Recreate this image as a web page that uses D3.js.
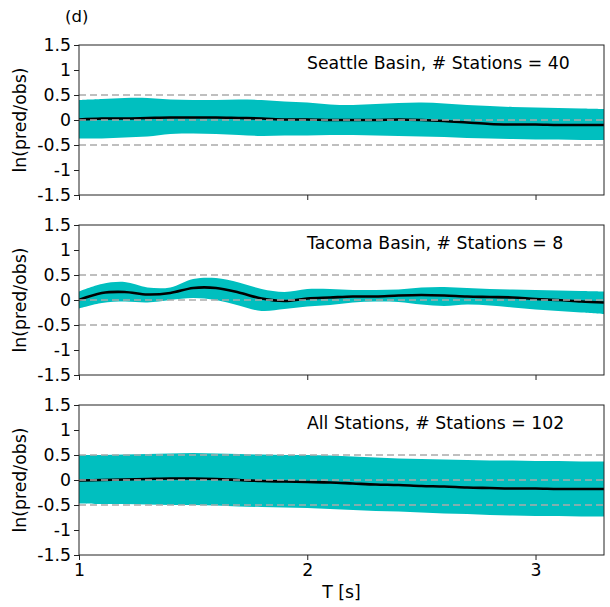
<!DOCTYPE html>
<html>
<head>
<meta charset="utf-8">
<script src="https://cdn.jsdelivr.net/npm/d3@7"></script>
<style>
  html, body { margin: 0; padding: 0; background: #fff; }
  text { font-family: "DejaVu Sans", sans-serif; fill: #000; }
</style>
</head>
<body>
<svg id="chart" width="610" height="607"></svg>
<script>
// ---------------- data ----------------
const periods = [1.0,1.1,1.2,1.3,1.4,1.5,1.6,1.7,1.8,1.9,2.0,2.1,2.2,2.3,2.4,2.5,2.6,2.7,2.8,2.9,3.0,3.1,3.2,3.3];

const seattleMean  = [0.01,0.03,0.03,0.04,0.05,0.05,0.05,0.04,0.03,0.01,0.01,0.00,0.00,0.00,0.01,0.00,-0.02,-0.05,-0.08,-0.09,-0.09,-0.10,-0.10,-0.10];
const seattleUpper = [0.40,0.42,0.44,0.44,0.41,0.40,0.40,0.41,0.40,0.37,0.35,0.31,0.30,0.32,0.34,0.35,0.33,0.30,0.28,0.26,0.25,0.24,0.23,0.22];
const seattleLower = [-0.37,-0.37,-0.35,-0.33,-0.28,-0.27,-0.28,-0.30,-0.32,-0.31,-0.31,-0.30,-0.30,-0.31,-0.32,-0.33,-0.34,-0.36,-0.37,-0.38,-0.39,-0.39,-0.40,-0.40];

const tacomaMean  = [0.00,0.14,0.16,0.11,0.14,0.24,0.24,0.15,0.03,-0.02,0.03,0.05,0.07,0.07,0.09,0.10,0.09,0.07,0.06,0.05,0.02,0.00,-0.03,-0.05];
const tacomaUpper = [0.17,0.32,0.36,0.25,0.25,0.42,0.44,0.35,0.22,0.16,0.22,0.22,0.20,0.20,0.21,0.25,0.26,0.24,0.22,0.21,0.20,0.19,0.18,0.17];
const tacomaLower = [-0.17,-0.06,-0.03,-0.05,0.00,0.04,0.00,-0.11,-0.22,-0.18,-0.13,-0.10,-0.05,-0.03,-0.04,-0.09,-0.12,-0.09,-0.11,-0.15,-0.19,-0.22,-0.25,-0.28];

const allMean  = [-0.01,0.00,0.01,0.02,0.03,0.03,0.02,0.00,-0.02,-0.03,-0.04,-0.05,-0.07,-0.09,-0.10,-0.12,-0.13,-0.15,-0.16,-0.17,-0.17,-0.18,-0.18,-0.18];
const allUpper = [0.50,0.50,0.51,0.52,0.53,0.54,0.53,0.52,0.51,0.50,0.50,0.49,0.47,0.45,0.43,0.42,0.41,0.40,0.39,0.39,0.38,0.38,0.37,0.37];
const allLower = [-0.47,-0.48,-0.48,-0.49,-0.50,-0.50,-0.51,-0.53,-0.54,-0.55,-0.56,-0.58,-0.60,-0.62,-0.63,-0.65,-0.67,-0.68,-0.70,-0.71,-0.72,-0.72,-0.73,-0.73];

const panelTitles = ["Seattle Basin, # Stations = 40", "Tacoma Basin, # Stations = 8", "All Stations, # Stations = 102"];
const yTickValues = [-1.5,-1,-0.5,0,0.5,1,1.5];
const yTickLabels = ["-1.5","-1","-0.5","0","0.5","1","1.5"];
const xTickValues = [1,2,3];
const xTickLabels = ["1","2","3"];
const refLines = [-0.5, 0, 0.5];
const xDomain = [1, 3.3];
const yDomain = [-1.5, 1.5];

const panels = [
  {title: panelTitles[0], mean: seattleMean, upper: seattleUpper, lower: seattleLower},
  {title: panelTitles[1], mean: tacomaMean,  upper: tacomaUpper,  lower: tacomaLower},
  {title: panelTitles[2], mean: allMean,     upper: allUpper,     lower: allLower}
];

// ---------------- layout ----------------
const svg = d3.select("#chart");
const left = 79, right = 604;
const panelTop = [45, 225, 405];
const panelH = 150;
const fs = "17.3px";

const x = d3.scaleLinear().domain(xDomain).range([left, right]);

svg.append("text").attr("x", 65).attr("y", 22)
  .style("font-size", "16.5px").text("(d)");

panels.forEach((p, i) => {
  const top = panelTop[i];
  const y = d3.scaleLinear().domain(yDomain).range([top + panelH, top]);
  const g = svg.append("g");

  const rows = periods.map((t, k) => ({t, m: p.mean[k], u: p.upper[k], l: p.lower[k]}));

  const clipId = "clip" + i;
  svg.append("clipPath").attr("id", clipId).append("rect")
    .attr("x", left).attr("y", top).attr("width", right - left).attr("height", panelH);

  const area = d3.area().curve(d3.curveCatmullRom)
    .x(d => x(d.t)).y0(d => y(d.l)).y1(d => y(d.u));
  const line = d3.line().curve(d3.curveCatmullRom)
    .x(d => x(d.t)).y(d => y(d.m));

  g.append("path").datum(rows).attr("d", area)
    .attr("fill", "#00bfbf").attr("clip-path", `url(#${clipId})`);
  g.append("path").datum(rows).attr("d", line)
    .attr("fill", "none").attr("stroke", "#000").attr("stroke-width", 2.6)
    .attr("clip-path", `url(#${clipId})`);

  g.selectAll("line.ref").data(refLines).enter().append("line")
    .attr("class", "ref")
    .attr("x1", left).attr("x2", right)
    .attr("y1", d => y(d)).attr("y2", d => y(d))
    .attr("stroke", "#aaaaaa").attr("stroke-width", 1.6)
    .attr("stroke-dasharray", "7,4");

  // axes
  const yAxis = d3.axisLeft(y).tickValues(yTickValues)
    .tickFormat((d, k) => yTickLabels[k]).tickSizeOuter(0).tickSize(5).tickPadding(3);
  const ya = svg.append("g").attr("transform", `translate(${left},0)`).call(yAxis);
  ya.select(".domain").remove();
  ya.selectAll("text").style("font-size", fs);

  const xAxis = d3.axisBottom(x).tickValues(xTickValues)
    .tickFormat((d, k) => i === 2 ? xTickLabels[k] : "").tickSizeOuter(0).tickSize(5).tickPadding(4);
  const xa = svg.append("g").attr("transform", `translate(0,${top + panelH})`).call(xAxis);
  xa.select(".domain").remove();
  xa.selectAll("text").style("font-size", fs);

  svg.selectAll(".tick line").attr("stroke", "#222");

  svg.append("rect").attr("x", left).attr("y", top)
    .attr("width", right - left).attr("height", panelH)
    .attr("fill", "none").attr("stroke", "#222").attr("stroke-width", 1);

  svg.append("text").attr("x", 307).attr("y", top + 24)
    .style("font-size", fs).text(p.title);

  svg.append("text")
    .attr("transform", `translate(${21},${top + panelH / 2}) rotate(-90)`)
    .attr("text-anchor", "middle").attr("dominant-baseline", "middle")
    .style("font-size", fs).text("ln(pred/obs)");
});

svg.append("text").attr("x", (left + right) / 2).attr("y", 598)
  .attr("text-anchor", "middle").style("font-size", fs).text("T [s]");
</script>
</body>
</html>
